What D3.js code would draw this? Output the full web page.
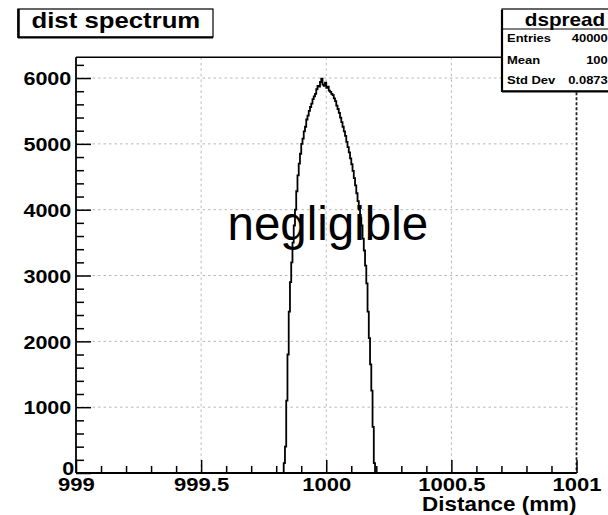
<!DOCTYPE html>
<html>
<head>
<meta charset="utf-8">
<script src="https://cdn.jsdelivr.net/npm/d3@7"></script>
<style>
  html, body { margin: 0; padding: 0; background: #ffffff; }
  svg { display: block; font-family: "Liberation Sans", Arial, Helvetica, sans-serif; }
</style>
</head>
<body>
<svg id="chart" width="608" height="515"></svg>
<script>
// ---------------- data ----------------
const histTitle = "dist spectrum";
const statsTitle = "dspread";
const statNames = ["Entries", "Mean", "Std Dev"];
const statValues = ["400000", "1000", "0.08733"];
const xTitle = "Distance (mm)";
const annotation = "negligible";

const xDomain = [999, 1001];
const yMax = 6315;
const xTickValues = [999, 999.5, 1000, 1000.5, 1001];
const xTickLabels = ["999", "999.5", "1000", "1000.5", "1001"];
const xMinorTicks = [999.1, 999.2, 999.3, 999.4, 999.6, 999.7, 999.8, 999.9,
                     1000.1, 1000.2, 1000.3, 1000.4, 1000.6, 1000.7, 1000.8, 1000.9];
const yTickValues = [0, 1000, 2000, 3000, 4000, 5000, 6000];
const yMinorTicks = [200, 400, 600, 800, 1200, 1400, 1600, 1800, 2200, 2400, 2600, 2800,
                     3200, 3400, 3600, 3800, 4200, 4400, 4600, 4800, 5200, 5400, 5600, 5800, 6200];
const gridX = [999.5, 1000, 1000.5];
const gridY = [1000, 2000, 3000, 4000, 5000, 6000];

// histogram: first bin low edge, bin width, and bin contents
const binLow = 999.830;
const binWidth = 0.005;
const counts = [
  150, 400, 1100, 1800, 2450, 2900, 3200, 3500, 3760, 4000,
  4280, 4520, 4700, 4850, 5000, 5080, 5190, 5260, 5370, 5430,
  5500, 5560, 5610, 5680, 5720, 5760, 5830, 5880, 5870, 5940,
  5990, 5900, 5880, 5930, 5850, 5870, 5810, 5790, 5760, 5740,
  5690, 5650, 5580, 5530, 5470, 5400, 5330, 5260, 5190, 5120,
  5030, 4950, 4870, 4780, 4690, 4590, 4480, 4370, 4250, 4130,
  4000, 3880, 3760, 3560, 3380, 3150, 2880, 2450, 2050, 1650,
  1250, 700, 150
];

// ---------------- layout ----------------
const L = 76, R = 576.5, T = 57.3, B = 473;
const FONT = '"Liberation Sans", Arial, Helvetica, sans-serif';
const SX = 1.16; // horizontal stretch of ROOT text

const svg = d3.select("#chart");
svg.append("rect").attr("width", 608).attr("height", 515).attr("fill", "#fff");

const x = d3.scaleLinear().domain(xDomain).range([L, R]);
const y = d3.scaleLinear().domain([0, yMax]).range([B, T]);

function stext(g, px, py, str, size, anchor, sx, weight) {
  return g.append("text")
    .attr("transform", `translate(${px},${py}) scale(${sx},1)`)
    .attr("text-anchor", anchor)
    .attr("font-size", size)
    .attr("font-weight", weight || "bold")
    .attr("font-family", FONT)
    .attr("fill", "#000")
    .text(str);
}

// ---------------- grid ----------------
const grid = svg.append("g");
grid.selectAll("line.gx").data(gridX).join("line")
  .attr("x1", d => x(d)).attr("x2", d => x(d))
  .attr("y1", T).attr("y2", B)
  .attr("stroke", "#b8b8b8").attr("stroke-width", 1).attr("stroke-dasharray", "2.5,3");
grid.selectAll("line.gy").data(gridY).join("line")
  .attr("x1", L).attr("x2", R)
  .attr("y1", d => y(d)).attr("y2", d => y(d))
  .attr("stroke", "#b8b8b8").attr("stroke-width", 1).attr("stroke-dasharray", "2.5,3");

// ---------------- histogram ----------------
const pts = [[xDomain[0], 0]];
counts.forEach((c, i) => pts.push([binLow + i * binWidth, c]));
pts.push([binLow + counts.length * binWidth, 0]);
pts.push([xDomain[1], 0]);
const line = d3.line().x(d => x(d[0])).y(d => y(d[1])).curve(d3.curveStepAfter);
svg.append("path").attr("d", line(pts))
  .attr("fill", "none").attr("stroke", "#000").attr("stroke-width", 1.8);

// ---------------- frame ----------------
svg.append("line").attr("x1", L).attr("x2", R).attr("y1", T).attr("y2", T)
  .attr("stroke", "#000").attr("stroke-width", 1.5);
svg.append("line").attr("x1", R).attr("x2", R).attr("y1", T).attr("y2", B)
  .attr("stroke", "#222").attr("stroke-width", 1.8).attr("stroke-dasharray", "3,2");

// ---------------- axes ----------------
const yMinorAxis = d3.axisLeft(y).tickValues(yMinorTicks).tickSizeInner(-8).tickSizeOuter(0).tickFormat("");
const gyMin = svg.append("g").attr("transform", `translate(${L},0)`).call(yMinorAxis);
gyMin.select(".domain").remove();

const yAxis = d3.axisLeft(y).tickValues(yTickValues).tickSizeInner(-15).tickSizeOuter(0).tickPadding(4)
  .tickFormat(d3.format("d"));
const gy = svg.append("g").attr("transform", `translate(${L},0)`).call(yAxis);
gy.select(".domain").attr("d", `M0,${B}V${T}`);

const xMinorAxis = d3.axisBottom(x).tickValues(xMinorTicks).tickSizeInner(-7).tickSizeOuter(0).tickFormat("");
const gxMin = svg.append("g").attr("transform", `translate(0,${B})`).call(xMinorAxis);
gxMin.select(".domain").remove();

const xAxis = d3.axisBottom(x).tickValues(xTickValues).tickSizeInner(-13).tickSizeOuter(0).tickPadding(4)
  .tickFormat((d, i) => xTickLabels[i]);
const gx = svg.append("g").attr("transform", `translate(0,${B})`).call(xAxis);
gx.select(".domain").attr("d", `M${L},0H${R}`);

[gy, gyMin, gx, gxMin].forEach(g => {
  g.selectAll("line").attr("stroke", "#000").attr("stroke-width", 1.5);
  g.selectAll(".domain").attr("stroke", "#000").attr("stroke-width", 1.8);
});
[gy, gx].forEach(g => {
  g.selectAll("text")
    .attr("font-family", FONT)
    .attr("font-weight", "bold")
    .attr("font-size", 18.6)
    .attr("fill", "#000");
});
gy.selectAll("text")
  .attr("dy", "0.36em")
  .attr("transform", d => d === 0 ? `translate(3,-5) scale(${SX},1)` : `scale(${SX},1)`);
gx.selectAll("text")
  .attr("font-size", 19)
  .attr("transform", `scale(${SX},1)`);

// ---------------- axis title ----------------
stext(svg, R, 510.5, xTitle, 19.5, "end", 1.15);

// ---------------- annotation ----------------
svg.append("text")
  .attr("x", 227.5).attr("y", 240)
  .attr("font-family", FONT)
  .attr("font-size", 47.5)
  .attr("fill", "#000")
  .text(annotation);

// ---------------- stats box ----------------
const sb = svg.append("g");
sb.append("rect").attr("x", 502).attr("y", 9).attr("width", 140).attr("height", 82)
  .attr("fill", "#fff").attr("stroke", "#000").attr("stroke-width", 1.2);
sb.append("line").attr("x1", 502).attr("x2", 502).attr("y1", 10).attr("y2", 92)
  .attr("stroke", "#000").attr("stroke-width", 2.2);
sb.append("line").attr("x1", 502).attr("x2", 608).attr("y1", 91.5).attr("y2", 91.5)
  .attr("stroke", "#000").attr("stroke-width", 1.8);
sb.append("line").attr("x1", 502).attr("x2", 608).attr("y1", 29).attr("y2", 29)
  .attr("stroke", "#000").attr("stroke-width", 1);
stext(sb, 565, 25.5, statsTitle, 18, "middle", 1.15);
const rowBase = [42, 64, 83.5];
statNames.forEach((n, i) => {
  stext(sb, 507, rowBase[i], n, 11, "start", 1.18);
  stext(sb, 615, rowBase[i], statValues[i], 11, "end", 1.18);
});

// ---------------- title box ----------------
const tb = svg.append("g");
tb.append("rect").attr("x", 18).attr("y", 9).attr("width", 195).attr("height", 28)
  .attr("fill", "#fff").attr("stroke", "#000").attr("stroke-width", 1.2);
tb.append("line").attr("x1", 18.5).attr("x2", 18.5).attr("y1", 9).attr("y2", 38)
  .attr("stroke", "#000").attr("stroke-width", 2.5);
tb.append("line").attr("x1", 18).attr("x2", 213).attr("y1", 37.5).attr("y2", 37.5)
  .attr("stroke", "#000").attr("stroke-width", 1.8);
stext(tb, 31.5, 28.3, histTitle, 22, "start", 1.17);
</script>
</body>
</html>
